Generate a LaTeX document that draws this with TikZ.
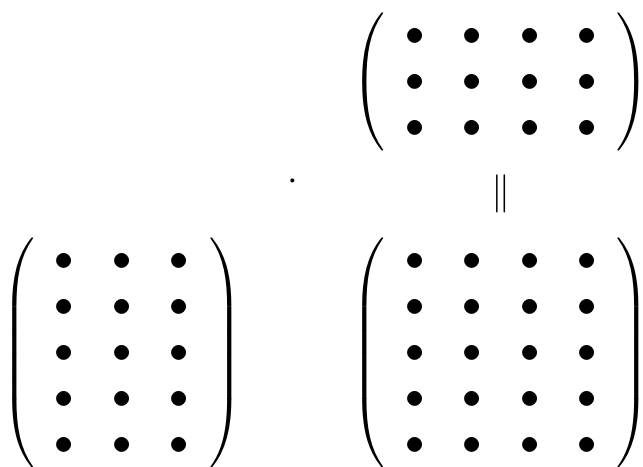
\documentclass[tikz,border=0pt]{standalone}
\usepackage{amsmath}
% ngoặc tròn có khoảng trống bên trong
\newcommand{\wmat}[1]{\left(\hspace{5.2pt}\begin{matrix}#1\end{matrix}\hspace{5.2pt}\right)}
\begin{document}
\begin{tikzpicture}[inner sep=0pt]
    % 1. Khung hình
    \useasboundingbox (0,0) rectangle (5.897,4.274);

    % 2. Ma trận B (3 x 4) ở trên
    \node (B) at (4.595,3.522) {$\wmat{
        \bullet & \bullet & \bullet & \bullet\\
        \bullet & \bullet & \bullet & \bullet\\
        \bullet & \bullet & \bullet & \bullet}$};

    % 3. Ma trận A (5 x 3) bên trái
    \node (A) at (1.119,1.036) {$\wmat{
        \bullet & \bullet & \bullet\\
        \bullet & \bullet & \bullet\\
        \bullet & \bullet & \bullet\\
        \bullet & \bullet & \bullet\\
        \bullet & \bullet & \bullet}$};

    % 4. Ma trận tích C (5 x 4)
    \node (C) at (4.595,1.036) {$\wmat{
        \bullet & \bullet & \bullet & \bullet\\
        \bullet & \bullet & \bullet & \bullet\\
        \bullet & \bullet & \bullet & \bullet\\
        \bullet & \bullet & \bullet & \bullet\\
        \bullet & \bullet & \bullet & \bullet}$};

    % 5. Dấu nhân và dấu bằng
    \node (dot) at (2.687,2.605) {$\cdot$};
    \node (eq) at (4.595,2.494) {$\|$};
\end{tikzpicture}
\end{document}
